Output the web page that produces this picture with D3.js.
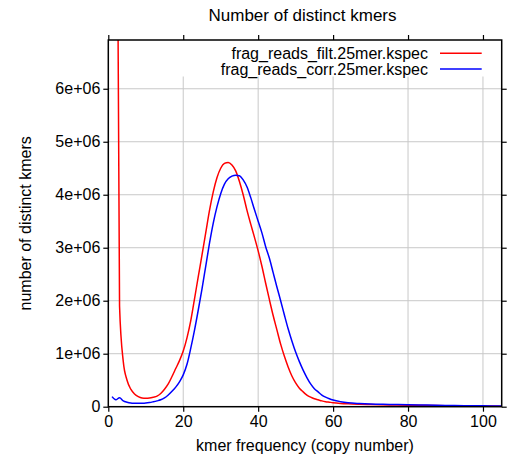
<!DOCTYPE html>
<html>
<head>
<meta charset="utf-8">
<script src="https://cdn.jsdelivr.net/npm/d3@7"></script>
<style>
  body { margin: 0; background: #fff; }
  text { font-family: "Liberation Sans", Arial, sans-serif; }
</style>
</head>
<body>
<div id="chart"></div>
<script>
// kmer frequency (copy number) at which each count was read
let kmerFreq = [
  1, 2, 3, 4, 5, 6, 7, 8, 9, 10,
  11, 12, 13, 14, 15, 16, 17, 18, 19, 20,
  21, 22, 23, 24, 25, 26, 27, 28, 29, 30,
  31, 32, 33, 34, 35, 36, 37, 38, 39, 40,
  41, 42, 43, 44, 45, 46, 47, 48, 49, 50,
  51, 52, 53, 54, 55, 56, 57, 58, 59, 60,
  62, 64, 67, 70, 75, 80, 85, 90, 95, 100, 105
];

// number of distinct kmers, in millions
let filtCounts = [
  40, 15, 1.9, 0.85, 0.5, 0.33, 0.24, 0.19, 0.165, 0.16,
  0.165, 0.18, 0.2, 0.25, 0.33, 0.43, 0.57, 0.72, 0.87, 1.05,
  1.3, 1.62, 2.03, 2.45, 2.86, 3.28, 3.7, 4.05, 4.32, 4.5,
  4.59, 4.61, 4.56, 4.45, 4.25, 4.0, 3.71, 3.45, 3.2, 2.94,
  2.65, 2.33, 2.02, 1.72, 1.45, 1.18, 0.95, 0.75, 0.58, 0.45,
  0.35, 0.28, 0.22, 0.18, 0.15, 0.13, 0.11, 0.095, 0.085, 0.075,
  0.062, 0.054, 0.046, 0.04, 0.033, 0.028, 0.023, 0.018, 0.015, 0.012, 0.01
];

let corrCounts = [
  0.19, 0.13, 0.17, 0.11, 0.085, 0.07, 0.065, 0.063, 0.064, 0.068,
  0.078, 0.093, 0.11, 0.13, 0.165, 0.22, 0.29, 0.37, 0.47, 0.6,
  0.8, 1.1, 1.44, 1.82, 2.22, 2.65, 3.08, 3.46, 3.77, 4.02,
  4.2, 4.3, 4.35, 4.37, 4.36, 4.28, 4.15, 3.95, 3.72, 3.5,
  3.28, 3.02, 2.8, 2.53, 2.26, 2.0, 1.73, 1.47, 1.24, 1.03,
  0.85, 0.69, 0.55, 0.43, 0.34, 0.28, 0.22, 0.18, 0.15, 0.126,
  0.095, 0.075, 0.06, 0.05, 0.043, 0.036, 0.03, 0.025, 0.02, 0.016, 0.013
];

let seriesNames = ["frag_reads_filt.25mer.kspec", "frag_reads_corr.25mer.kspec"];
let seriesColors = ["#ff0000", "#0000ff"];

let xTicks = [0, 20, 40, 60, 80, 100];
let yTicks = [0, 1e6, 2e6, 3e6, 4e6, 5e6, 6e6];
let yTickLabels = ["0", "1e+06", "2e+06", "3e+06", "4e+06", "5e+06", "6e+06"];

// set the dimensions and margins of the graph
let totalW = 507, totalH = 458;
let margin = {top: 40, right: 5.3, bottom: 51.3, left: 108.3},
    width = totalW - margin.left - margin.right,
    height = totalH - margin.top - margin.bottom;

let svg = d3.select("#chart")
  .append("svg")
    .attr("width", totalW)
    .attr("height", totalH);

let g = svg.append("g")
    .attr("transform", "translate(" + margin.left + "," + margin.top + ")");

let x = d3.scaleLinear().domain([0, 105]).range([0, width]);
let y = d3.scaleLinear().domain([0, 6.92e6]).range([height, 0]);

// grid
g.append("g")
  .selectAll("line.vg")
  .data(xTicks.slice(1))
  .enter().append("line")
    .attr("x1", d => x(d)).attr("x2", d => x(d))
    .attr("y1", 0).attr("y2", height)
    .attr("stroke", "#c8c8c8").attr("stroke-width", 1);
g.append("g")
  .selectAll("line.hg")
  .data(yTicks.slice(1))
  .enter().append("line")
    .attr("x1", 0).attr("x2", width)
    .attr("y1", d => y(d)).attr("y2", d => y(d))
    .attr("stroke", "#c8c8c8").attr("stroke-width", 1);

// opaque key box hides the grid behind the legend
g.append("rect")
  .attr("x", 50).attr("y", 0)
  .attr("width", width - 50).attr("height", 36.5)
  .attr("fill", "#fff");

// axes, ticks pointing out on all four sides
function styleAxis(sel) {
  sel.select(".domain").remove();
  sel.selectAll(".tick line").attr("stroke", "#000").attr("stroke-width", 1.2);
  sel.selectAll("text").attr("font-size", 16).attr("fill", "#000")
    .style("font-family", "'Liberation Sans', Arial, sans-serif");
}

g.append("g")
  .attr("transform", "translate(0," + height + ")")
  .call(d3.axisBottom(x).tickValues(xTicks).tickSize(5).tickPadding(4))
  .call(styleAxis);

g.append("g")
  .call(d3.axisTop(x).tickValues(xTicks).tickSize(5).tickFormat(""))
  .call(styleAxis);

g.append("g")
  .call(d3.axisLeft(y).tickValues(yTicks).tickSize(5).tickPadding(3)
    .tickFormat((d, i) => yTickLabels[i]))
  .call(styleAxis);

g.append("g")
  .attr("transform", "translate(" + width + ",0)")
  .call(d3.axisRight(y).tickValues(yTicks).tickSize(5).tickFormat(""))
  .call(styleAxis);

// clip the curves to the plot area
svg.append("defs").append("clipPath").attr("id", "plotclip")
  .append("rect").attr("width", width).attr("height", height);

let line = d3.line()
  .curve(d3.curveMonotoneX)
  .x(d => x(d[0]))
  .y(d => y(d[1] * 1e6));

[filtCounts, corrCounts].forEach(function(vals, i) {
  g.append("path")
    .datum(kmerFreq.map((k, j) => [k, vals[j]]))
    .attr("clip-path", "url(#plotclip)")
    .attr("fill", "none")
    .attr("stroke", seriesColors[i])
    .attr("stroke-width", 1.5)
    .attr("d", line);
});

// border
g.append("rect")
  .attr("width", width).attr("height", height)
  .attr("fill", "none").attr("stroke", "#000").attr("stroke-width", 1.5);

// legend
let legend = g.append("g");
seriesNames.forEach(function(name, i) {
  let cy = 13.3 + i * 15.7;
  legend.append("text")
    .attr("x", 428 - margin.left).attr("y", cy + 5.5)
    .attr("text-anchor", "end")
    .attr("font-size", 16)
    .text(name);
  legend.append("line")
    .attr("x1", 440 - margin.left).attr("x2", 481.7 - margin.left)
    .attr("y1", cy).attr("y2", cy)
    .attr("stroke", seriesColors[i]).attr("stroke-width", 1.5);
});

// titles
svg.append("text")
  .attr("x", 302.5).attr("y", 21)
  .attr("text-anchor", "middle")
  .attr("font-size", 17)
  .text("Number of distinct kmers");

svg.append("text")
  .attr("x", margin.left + width / 2).attr("y", 451)
  .attr("text-anchor", "middle")
  .attr("font-size", 16)
  .text("kmer frequency (copy number)");

svg.append("text")
  .attr("transform", "translate(31," + (margin.top + height / 2) + ") rotate(-90)")
  .attr("text-anchor", "middle")
  .attr("font-size", 16)
  .text("number of distinct kmers");
</script>
</body>
</html>
